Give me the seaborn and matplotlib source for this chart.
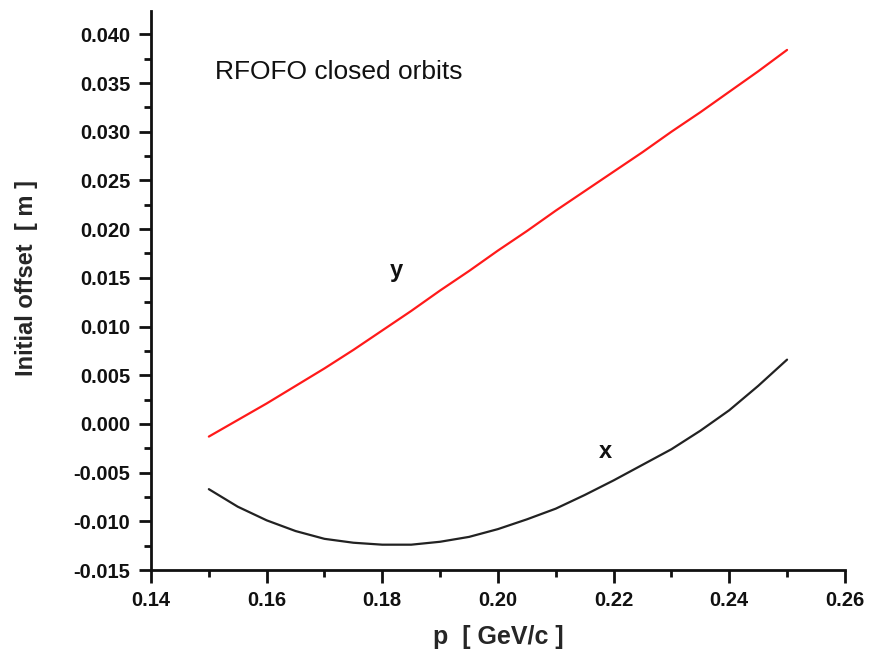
import matplotlib
matplotlib.use("Agg")
import matplotlib.pyplot as plt
import seaborn as sns
import pandas as pd
from matplotlib.ticker import MultipleLocator, FormatStrFormatter

p_vals = [0.150, 0.155, 0.160, 0.165, 0.170, 0.175, 0.180, 0.185, 0.190, 0.195, 0.200,
          0.205, 0.210, 0.215, 0.220, 0.225, 0.230, 0.235, 0.240, 0.245, 0.250]
y_orbit = [-0.0013, 0.0004, 0.0021, 0.0039, 0.0057, 0.0076, 0.0096, 0.0116, 0.0137, 0.0157, 0.0178,
           0.0198, 0.0219, 0.0239, 0.0259, 0.0279, 0.0300, 0.0320, 0.0341, 0.0362, 0.0384]
x_orbit = [-0.0067, -0.0085, -0.0099, -0.0110, -0.0118, -0.0122, -0.0124, -0.0124, -0.0121, -0.0116, -0.0108,
           -0.0098, -0.0087, -0.0073, -0.0058, -0.0042, -0.0026, -0.0007, 0.0014, 0.0039, 0.0066]

sns.set_theme(style="ticks")
plt.rcParams['font.family'] = ['Liberation Sans', 'DejaVu Sans']

df = pd.DataFrame({"p": p_vals * 2,
                   "offset": y_orbit + x_orbit,
                   "series": ["y"] * len(p_vals) + ["x"] * len(p_vals)})

fig = plt.figure(figsize=(8.71, 6.53), dpi=100)
ax = fig.add_axes([0.1734, 0.1271, 0.7966, 0.8561])

sns.lineplot(data=df, x="p", y="offset", hue="series",
             palette={"y": "#ff1a1a", "x": "#222222"}, linewidth=1.6,
             legend=False, ax=ax, sort=False)

ax.set_xlim(0.14, 0.26)
ax.set_ylim(-0.015, 0.0424)
ax.xaxis.set_major_locator(MultipleLocator(0.02))
ax.xaxis.set_minor_locator(MultipleLocator(0.01))
ax.yaxis.set_major_locator(MultipleLocator(0.005))
ax.yaxis.set_minor_locator(MultipleLocator(0.0025))
ax.xaxis.set_major_formatter(FormatStrFormatter('%.2f'))
ax.yaxis.set_major_formatter(FormatStrFormatter('%.3f'))

for s in ['top', 'right']:
    ax.spines[s].set_visible(False)
for s in ['left', 'bottom']:
    ax.spines[s].set_linewidth(2)
    ax.spines[s].set_color('#111111')

ax.tick_params(which='major', length=9, width=2, direction='out', colors='#111111',
               labelsize=14.5, pad=6)
ax.tick_params(which='minor', length=5, width=2, direction='out', colors='#111111')
for lbl in ax.get_xticklabels() + ax.get_yticklabels():
    lbl.set_fontweight('bold')

ax.set_xlabel("p  [ GeV/c ]", fontsize=18, fontweight='bold', labelpad=11)
ax.set_ylabel("Initial offset  [ m ]", fontsize=17, fontweight='bold')
ax.yaxis.set_label_coords(-0.163, 0.523)

ax.text(0.1511, 0.0361, "RFOFO closed orbits", fontsize=19, va='center', ha='left', color='#111111')
ax.text(0.1825, 0.0158, "y", fontsize=17, fontweight='bold', ha='center', va='center', color='#111111')
ax.text(0.2185, -0.0028, "x", fontsize=17, fontweight='bold', ha='center', va='center', color='#111111')

fig.savefig("out.png", dpi=100)
